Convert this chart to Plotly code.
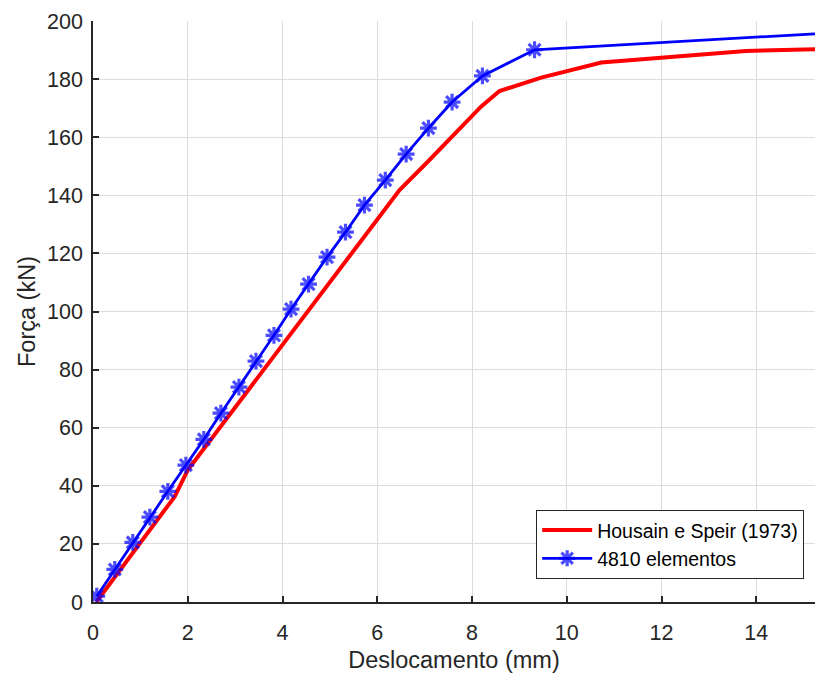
import plotly.graph_objects as go

# Housain e Speir (1973) - experimental load-displacement curve
ref_disp = [0.07, 1.72, 2.0, 3.0, 4.0, 5.0, 6.0, 6.47, 7.05, 7.6, 8.19, 8.58,
            9.46, 10.73, 13.78, 15.24]
ref_force = [0.0, 36.2, 45.4, 67.0, 88.5, 110.0, 131.5, 141.8, 151.3, 160.8,
             170.5, 175.9, 180.5, 185.7, 189.7, 190.3]

# Numerical model with 4810 elements
fem_disp = [0.08, 0.46, 0.84, 1.20, 1.58, 1.96, 2.34, 2.70, 3.08, 3.44, 3.82,
            4.18, 4.55, 4.94, 5.33, 5.73, 6.17, 6.61, 7.08, 7.58, 8.22, 9.32,
            15.24]
fem_force = [2.0, 11.2, 20.5, 29.2, 38.1, 47.1, 56.0, 65.0, 74.0, 82.9, 91.8,
             100.8, 109.4, 118.7, 127.3, 136.6, 145.2, 154.2, 163.1, 172.1,
             181.1, 190.1, 195.6]

x_ticks = [0, 2, 4, 6, 8, 10, 12, 14]
y_ticks = [0, 20, 40, 60, 80, 100, 120, 140, 160, 180, 200]

FONT = "Liberation Sans, Arial, Helvetica, sans-serif"
AXIS_COLOR = "#262626"
GRID_COLOR = "#dcdcdc"

fig = go.Figure()

fig.add_trace(go.Scatter(
    x=ref_disp, y=ref_force, mode="lines",
    name="Housain e Speir (1973)",
    line=dict(color="#ff0000", width=4),
))

# marker on every computed point except the one cut at the axis edge
marker_sizes = [14] * (len(fem_disp) - 1) + [0]
fig.add_trace(go.Scatter(
    x=fem_disp, y=fem_force, mode="lines+markers",
    name="4810 elementos",
    line=dict(color="#0000ff", width=2.8),
    marker=dict(symbol="asterisk-open", size=marker_sizes, color="#0000ff",
                line=dict(color="#0000ff", width=3.2)),
))

axis_common = dict(
    showgrid=True, gridcolor=GRID_COLOR, gridwidth=1,
    showline=True, linecolor=AXIS_COLOR, linewidth=1.5,
    ticks="inside", ticklen=6, tickwidth=1.5, tickcolor=AXIS_COLOR,
    tickfont=dict(family=FONT, size=21.5, color=AXIS_COLOR),
    zeroline=False, mirror=False,
)

fig.update_layout(
    width=815, height=675,
    margin=dict(l=93, r=0, t=21, b=73),
    paper_bgcolor="white", plot_bgcolor="white",
    font=dict(family=FONT, color=AXIS_COLOR),
    xaxis=dict(range=[0, 15.24], tickvals=x_ticks, ticklabelstandoff=10,
               title=dict(text="Deslocamento (mm)",
                          font=dict(family=FONT, size=23.5, color=AXIS_COLOR),
                          standoff=8),
               **axis_common),
    yaxis=dict(range=[0, 200], tickvals=y_ticks, ticklabelstandoff=4,
               title=dict(text="Força (kN)",
                          font=dict(family=FONT, size=23.5, color=AXIS_COLOR),
                          standoff=5),
               **axis_common),
    legend=dict(x=0.985, y=0.04, xanchor="right", yanchor="bottom",
                bgcolor="white", bordercolor="#262626", borderwidth=1,
                font=dict(family=FONT, size=19.5, color="black"),
                itemwidth=50, tracegroupgap=0),
    showlegend=True,
)

fig.write_html("out.html")
